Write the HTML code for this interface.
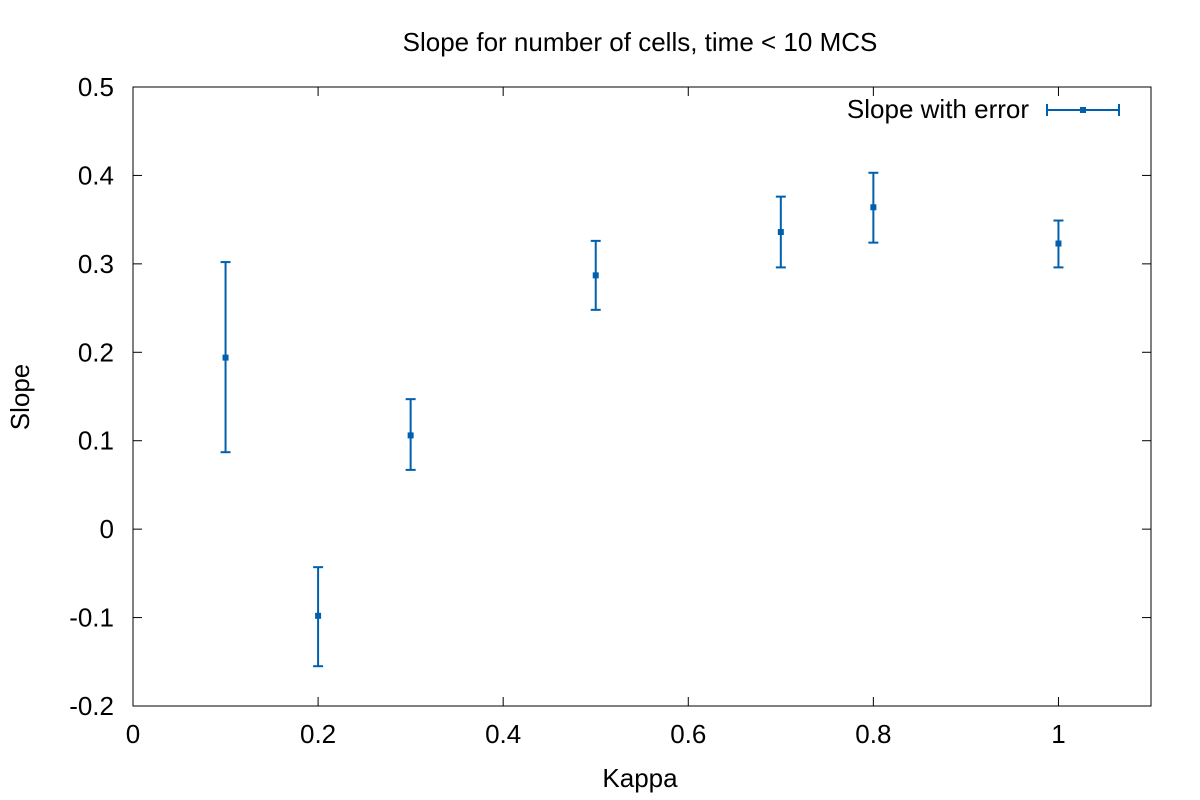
<!DOCTYPE html>
<html><head><meta charset="utf-8"><style>
body{margin:0;background:#fff;}
svg{display:block;font-family:"Liberation Sans",sans-serif;}
</style></head><body>
<svg id="chart" width="1200" height="800">
<text x="640" y="51" text-anchor="middle" font-size="26">Slope for number of cells, time &lt; 10 MCS</text>
<text x="640" y="787" text-anchor="middle" font-size="26">Kappa</text>
<text x="29" y="397" text-anchor="middle" font-size="26" transform="rotate(-90 29 397)">Slope</text>
<rect x="133" y="87" width="1018" height="619" fill="none" stroke="#000" stroke-width="1"/>
<g id="axes"></g>
<g id="marks"></g>
<g>
<text x="1029" y="118" text-anchor="end" font-size="26">Slope with error</text>
<line x1="1047" y1="110" x2="1119" y2="110" stroke="#0060ad" stroke-width="2"/>
<line x1="1047" y1="104" x2="1047" y2="116" stroke="#0060ad" stroke-width="2"/>
<line x1="1119" y1="104" x2="1119" y2="116" stroke="#0060ad" stroke-width="2"/>
<rect x="1080" y="107" width="6" height="6" fill="#0060ad"/>
</g>
</svg>
<script>
const kappa=[0.1,0.2,0.3,0.5,0.7,0.8,1.0];
const slope=[0.194,-0.098,0.106,0.287,0.336,0.364,0.323];
const errLow=[0.087,-0.155,0.067,0.248,0.296,0.324,0.296];
const errHigh=[0.302,-0.043,0.147,0.326,0.376,0.403,0.349];
const xTicks=[0,0.2,0.4,0.6,0.8,1];
const xTickLabels=["0","0.2","0.4","0.6","0.8","1"];
const yTicks=[-0.2,-0.1,0,0.1,0.2,0.3,0.4,0.5];
const yTickLabels=["-0.2","-0.1","0","0.1","0.2","0.3","0.4","0.5"];
const X0=133,X1=1151,Y0=706,Y1=87,xmin=0,xmax=1.1,ymin=-0.2,ymax=0.5;
const sx=v=>X0+(v-xmin)/(xmax-xmin)*(X1-X0);
const sy=v=>Y0-(v-ymin)/(ymax-ymin)*(Y0-Y1);
const NS="http://www.w3.org/2000/svg";
function mk(tag,attrs,parent){const e=document.createElementNS(NS,tag);for(const k in attrs)e.setAttribute(k,attrs[k]);parent.appendChild(e);return e;}
const axes=document.getElementById('axes'),marks=document.getElementById('marks');
xTicks.forEach((t,i)=>{const x=sx(t);
let a=mk('line',{x1:x,y1:Y0,x2:x,y2:Y0-9,stroke:'#000'},axes);


let b=mk('line',{x1:x,y1:Y1,x2:x,y2:Y1+9,stroke:'#000'},axes);


let l=mk('text',{x:x,y:743,'text-anchor':'middle','font-size':26},axes);l.textContent=xTickLabels[i];

});
yTicks.forEach((t,i)=>{const y=sy(t);
let a=mk('line',{x1:X0,y1:y,x2:X0+9,y2:y,stroke:'#000'},axes);


let b=mk('line',{x1:X1,y1:y,x2:X1-9,y2:y,stroke:'#000'},axes);


let l=mk('text',{x:114,y:y+9,'text-anchor':'end','font-size':26},axes);l.textContent=yTickLabels[i];

});
kappa.forEach((k,i)=>{const x=sx(k);
const g=mk('g',{},marks);


mk('line',{x1:x,y1:sy(errLow[i]),x2:x,y2:sy(errHigh[i]),stroke:'#0060ad','stroke-width':2},g);
mk('line',{x1:x-5,y1:sy(errLow[i]),x2:x+5,y2:sy(errLow[i]),stroke:'#0060ad','stroke-width':2},g);
mk('line',{x1:x-5,y1:sy(errHigh[i]),x2:x+5,y2:sy(errHigh[i]),stroke:'#0060ad','stroke-width':2},g);
mk('rect',{x:x-3,y:sy(slope[i])-3,width:6,height:6,fill:'#0060ad'},g);});
</script>
</body></html>
